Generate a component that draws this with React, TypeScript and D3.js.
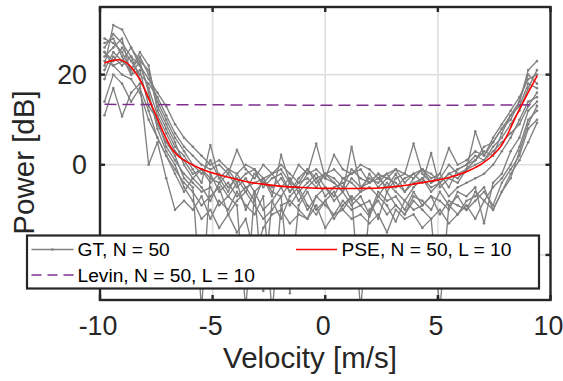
import React from "react";
import * as d3 from "d3";

const velocity = [-9.80,-9.41,-9.02,-8.62,-8.23,-7.84,-7.45,-7.06,-6.67,-6.27,-5.88,-5.49,-5.10,-4.71,-4.31,-3.92,-3.53,-3.14,-2.75,-2.36,-1.96,-1.57,-1.18,-0.79,-0.40,0.00,0.39,0.78,1.17,1.57,1.96,2.35,2.74,3.13,3.53,3.92,4.31,4.70,5.09,5.49,5.88,6.27,6.66,7.05,7.45,7.84,8.23,8.62,9.01,9.40];

const gt1 = [26,29,27,24,22,17,11,7,3,1, -2,-1,-3,-4,-2,-5,-3,-6,-4,-2, -5,-3,-6,-4,-2,-5,-7,-3,-4,-6, -2,-5,-3,-4,-6,-3,-1,-4,-2,-5, -1,0,2,1,4,6,9,12,17,21];
const gt2 = [22,31,30,26,23,21,14,10,6,3, 0,-2,1,-3,-1,-4,-2,-1,-5,-3, -2,-6,-3,-1,-4,-2,-3,-5,-1,-3, -4,-2,-6,-3,-2,4.7,-2,-4,-3,0, -2,-1,7.4,2,5,8,10,14,21,23];
const gt3 = [28,27,25,21,25,22,12,8,4,2, -1,-4,4.4,-3,-6,-2,-5,-4,-3,-7, 2.2,-4,-5,-2,4.7,-3,-4,-6,4,-5, -3,-4,-2,-5,-3,-2,-4,2.6,-5,-3, -4,-1,1,3,2,7,11,13,18,17];
const gt4 = [19,24,22,24,19,15,9,5,2,-3, -5,-32,-2,-6,-4,-7,-5,-8,-3,-6, -7,-4,-8,-5,-3,-7,-5,-4,-8,-6, -5,-7,-4,-6,-8,-5,-3,-6,-4,-7, -5,-4,-3,-2,0,3,6,10,14,15];
const gt5 = [24,26,28,20,21,13,10,4,1,-2, -4,-6,-5,-9,-7,-4,-10,-6,-28,-8, -5,-9,-6,-10,-7,-5,-8,-6,-9,-7, -11,-6,-8,-7,-10,-6,-9,-7,-8,-10, -6,-7,-5,-13,-4,-2,3,6,12,14];
const gt6 = [11,17,10.7,16,18,0,5,-3,-10,-8, -10,-7,-12,-8,-10,-6,-9,-11,-7,-33, -9,-8,-10,-12,-7,-9,-11,-8,-10,-9, -11.5,-7,-9,-12.6,-8,-10,-9,-7,-11,-8, -9,-10,-6,-8,-5,-3,0,4,10,12];
const gt7 = [25,23,26,23,20,18,15,11,7,4, 2,0,-1,0,-2,3.3,-1,-3,0,-2, -1,-4,0,-2,-1,-3,2.2,-1,-2,0, -1,-3,-2,-1,-4,-2,-1,-3,-2,3.7, 0,1,3,2,6,9,12,15,19,20];
const gt8 = [21,25,23,26,22,19,16,13,9,6, 4,2,0,1,-1,-2,0,-1,-3,-2, 0,-2,-4,-1,-3,-2,-1,-3,-2,-1, -4,-2,-3,-1,-2,-3,-1,-2,-4,-2, -1,0,1,4,5,8,11,14,20,18];
const gt9 = [14,20,18,14,17,12,6,2,-1,-4, -6,-9,-7,-5,-11,-8,-6,-9,-12,-10, -7,-28.5,-9,-6,-10,-8,-12,-9,-7,-32, -10,-8,-11,-9,-11,-8,-10,-12,-32,-9, -7,-10,-8,-6,-9,-4,-1,2,8,10];
const gt10 = [27,28,24,20,23,16,8,3,0,-5, -8,-12,-10,-14,-11,-15,-12,-20,-14,-11, -10,-13,-11,-12,-9,-14,-11,-10,-12,-11, -13,-11,-15,-10,-12,-11,-14,-12,-10,-13, -11,-9,-12,-8,-10,-6,-3,3,9,13];
const gt11 = [23,22,20,19,16,10,6,2,-2,-6, -3,-5,-8,-4,-7,-9,-32,-6,-10,-8, -12,-7,-5,-9,-11,-8,-6,-10,-7,-9, -8,-12,-6,-9,-11,-7,-8,-10,-6,-9, -11,-8,-7,-5,-10,-6,-2,1,5,9.3];
const gt12 = [25,22,23,21,24,20,13,9,5,0, -3,-1,-4,-2,-5,-3,-6,-2,-4,-5, -3,-6,-4,-3,-5,-2,-4,-6,-3,-5, -4,-3,-5,-2,-6,-4,-3,-5,-4,-2, -3,-1,0,1,3,5,7,9,13,16];
const gtSeries = [gt1, gt2, gt3, gt4, gt5, gt6, gt7, gt8, gt9, gt10, gt11, gt12];

const pseVelocity = [-9.8,-9.45,-9.14,-8.85,-8.52,-8.3,-8.08,-7.8,-7.49,-7.2,-6.82,-6.5,-6.16,-5.6,-4.99,-4.2,-3.35,-2.6,-1.88,-1.0,-0.39,0.5,1.5,2.4,3.2,3.9,4.6,5.37,6.1,6.5,6.85,7.3,7.74,8.05,8.33,8.62,8.92,9.2,9.41];
const psePower = [22.6,23.1,23.3,22.7,21.1,19.5,17.4,14.2,10.7,7.3,3.6,1.8,0.7,-0.7,-1.85,-2.9,-3.9,-4.4,-4.8,-5.05,-5.2,-5.25,-5.25,-5.15,-4.8,-4.3,-3.7,-3.0,-1.9,-1.0,-0.1,1.5,3.7,6.3,9.3,12.3,15.2,17.8,19.8];

const levinVelocity = [-9.8, -5, 0, 5, 9.4];
const levinPower = [13.4, 13.3, 13.2, 13.2, 13.3];

const xTicks = [-10, -5, 0, 5, 10];
const yTicks = [-20, 0, 20];
const legendLabels = ["GT, N = 50", "PSE, N = 50, L = 10", "Levin, N = 50, L = 10"];

const W = 563, H = 381;
const left = 100, right = 550.5, top = 7, bottom = 300;
const FONT = "'Liberation Sans', Arial, Helvetica, sans-serif";
const TXT = "#262626";

export default function App() {
  const x = d3.scaleLinear().domain([-10, 10]).range([left, right]);
  const y = d3.scaleLinear().domain([-30, 35]).range([bottom, top]);
  const line = d3.line<number>().x((_, i) => x(velocity[i])).y((d) => y(d));
  const pseLine = d3.line<number>().x((_, i) => x(pseVelocity[i])).y((d) => y(d)).curve(d3.curveCatmullRom.alpha(0.5));
  const levinLine = d3.line<number>().x((_, i) => x(levinVelocity[i])).y((d) => y(d));
  const tickLen = 5;

  return (
    <div style={{ position: "absolute", left: 0, top: 0 }}>
      <svg width={W} height={H} style={{ display: "block", background: "#fff" }}>
        <defs>
          <clipPath id="plotClip">
            <rect x={left} y={top} width={right - left} height={bottom - top} />
          </clipPath>
        </defs>
        <rect x={0} y={0} width={W} height={H} fill="#fff" />
        <g stroke="#dfdfdf" strokeWidth={1.6}>
          {xTicks.map((t) => (
            <line key={"gx" + t} x1={x(t)} x2={x(t)} y1={top} y2={bottom} />
          ))}
          {yTicks.map((t) => (
            <line key={"gy" + t} x1={left} x2={right} y1={y(t)} y2={y(t)} />
          ))}
        </g>
        <g clipPath="url(#plotClip)">
          {gtSeries.map((s, k) => (
            <g key={"gt" + k}>
              <path d={line(s) || ""} fill="none" stroke="#808080" strokeWidth={1.35} strokeLinejoin="round" />
              {s.map((v, i) => (
                <circle key={i} cx={x(velocity[i])} cy={y(v)} r={1.3} fill="#808080" />
              ))}
            </g>
          ))}
          <path d={levinLine(levinPower) || ""} fill="none" stroke="#7e2f8e" strokeWidth={1.5} strokeDasharray="12,6" />
          <path d={pseLine(psePower) || ""} fill="none" stroke="#ff0000" strokeWidth={1.6} />
        </g>
        <g stroke={TXT} strokeWidth={2.4} fill="none">
          <rect x={left} y={top} width={right - left} height={bottom - top} />
          {xTicks.map((t) => (
            <g key={"tx" + t}>
              <line x1={x(t)} x2={x(t)} y1={bottom} y2={bottom - tickLen} />
              <line x1={x(t)} x2={x(t)} y1={top} y2={top + tickLen} />
            </g>
          ))}
          {yTicks.map((t) => (
            <g key={"ty" + t}>
              <line x1={left} x2={left + tickLen} y1={y(t)} y2={y(t)} />
              <line x1={right} x2={right - tickLen} y1={y(t)} y2={y(t)} />
            </g>
          ))}
        </g>
        <g fill={TXT} fontFamily={FONT} fontSize={26.8}>
          {xTicks.map((t) => (
            <text key={"lx" + t} x={x(t) - 2} y={335} textAnchor="middle">{String(t)}</text>
          ))}
          {yTicks.map((t) => (
            <text key={"ly" + t} x={87} y={y(t)} dy="0.35em" textAnchor="end">{String(t)}</text>
          ))}
        </g>
        <text x={310} y={368} textAnchor="middle" fill={TXT} fontFamily={FONT} fontSize={29.5}>Velocity [m/s]</text>
        <text transform={`translate(34,162.5) rotate(-90)`} textAnchor="middle" fill={TXT} fontFamily={FONT} fontSize={29.5}>Power [dB]</text>
        <g>
          <rect x={27} y={235.5} width={512} height={53} fill="#fff" stroke={TXT} strokeWidth={2.2} />
          <line x1={31.5} x2={73.5} y1={249.5} y2={249.5} stroke="#808080" strokeWidth={1.3} />
          <circle cx={52.5} cy={249.5} r={1.3} fill="#808080" />
          <text x={77.5} y={256} fill="#000" fontFamily={FONT} fontSize={19.2}>{legendLabels[0]}</text>
          <line x1={296} x2={337} y1={249.5} y2={249.5} stroke="#ff0000" strokeWidth={1.6} />
          <text x={341.5} y={256} fill="#000" fontFamily={FONT} fontSize={19.2}>{legendLabels[1]}</text>
          <line x1={31.5} x2={73.5} y1={275} y2={275} stroke="#7e2f8e" strokeWidth={1.5} strokeDasharray="10,6" />
          <text x={77.5} y={281.5} fill="#000" fontFamily={FONT} fontSize={19.2}>{legendLabels[2]}</text>
        </g>
      </svg>
    </div>
  );
}
